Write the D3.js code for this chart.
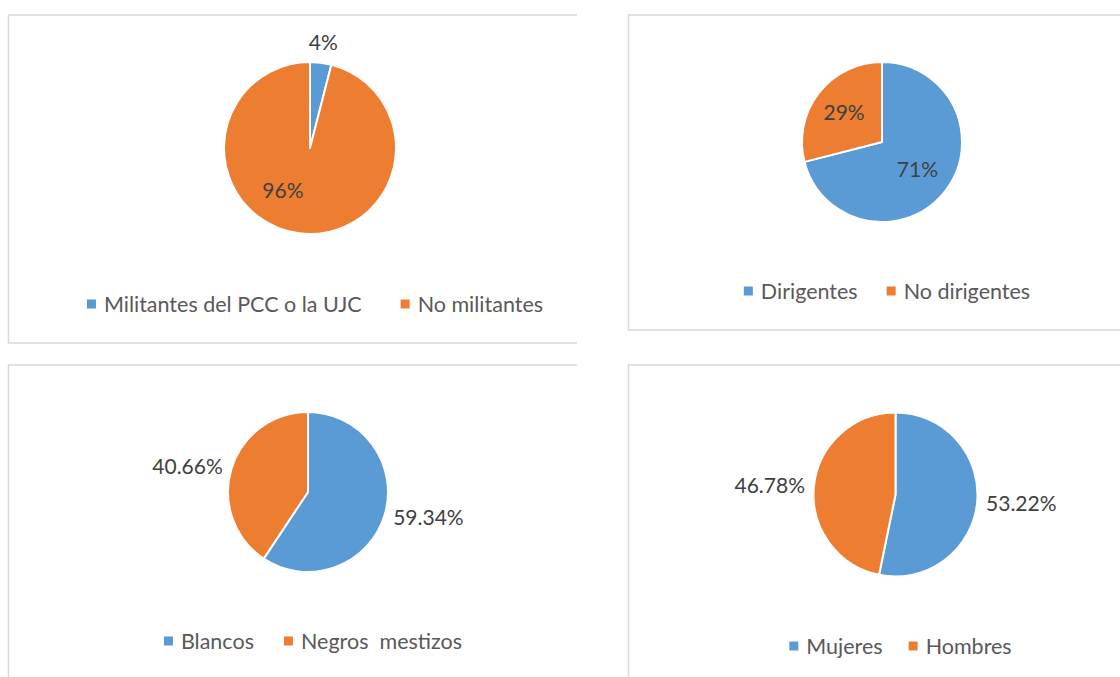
<!DOCTYPE html>
<html lang="es">
<head>
<meta charset="utf-8">
<title>pies</title>
<script src="https://cdn.jsdelivr.net/npm/d3@7"></script>
<style>
  body { margin: 0; background: #fff; }
  svg { display: block; }
  .lbl { font-family: Lato, "Noto Sans", sans-serif; font-size: 21px; fill: #404040; }
  .leg { font-family: Lato, "Noto Sans", sans-serif; font-size: 21.5px; fill: #595959; white-space: pre; }
  .frame { fill: none; stroke: #d9d9d9; stroke-width: 1.5; }
</style>
</head>
<body>
<svg width="1120" height="677"></svg>
<script>
// data
var militanciaCats = ["Militantes del PCC o la UJC", "No militantes"];
var militanciaVals = [4, 96];
var cargoCats = ["Dirigentes", "No dirigentes"];
var cargoVals = [71, 29];
var razaCats = ["Blancos", "Negros  mestizos"];
var razaVals = [59.34, 40.66];
var sexoCats = ["Mujeres", "Hombres"];
var sexoVals = [53.22, 46.78];

var colors = ["#5b9bd5", "#ed7d31"];

// layout of each panel
var panels = [
  { cats: militanciaCats, vals: militanciaVals, fmt: ".0f",
    frame: [8.5, 15, 577, 343, true], cx: 310, cy: 148, r: 86, legY: 304, legGap: 39,
    labels: [{ out: 20 }, { inn: 0.57, dx: -21, dy: -6 }] },
  { cats: cargoCats, vals: cargoVals, fmt: ".0f",
    frame: [628.5, 15, 1121, 330, true], cx: 882, cy: 142, r: 80, legY: 291, legGap: 29,
    labels: [{ inn: 0.56 }, { inn: 0.6 }] },
  { cats: razaCats, vals: razaVals, fmt: ".2f",
    frame: [8.5, 365, 577, 678, false], cx: 308, cy: 492, r: 80, legY: 641, legGap: 30,
    labels: [{ out: 9 }, { out: 9 }] },
  { cats: sexoCats, vals: sexoVals, fmt: ".2f",
    frame: [628.5, 365, 1121, 678, false], cx: 895.5, cy: 494.5, r: 82, legY: 646, legGap: 26,
    labels: [{ out: 9 }, { out: 9 }] }
];

var svg = d3.select("svg");
var pie = d3.pie().sort(null).value(function(d){ return d; });

panels.forEach(function(p){
  var f = p.frame;
  // left, top and (maybe) bottom edges; the right side is cut off in the source
  var path = "M" + f[2] + "," + f[1] + "H" + f[0] + "V" + f[3];
  if (f[4]) path += "H" + f[2];
  svg.append("path").attr("class", "frame").attr("d", path);

  var g = svg.append("g").attr("transform", "translate(" + p.cx + "," + p.cy + ")");
  var arc = d3.arc().innerRadius(0).outerRadius(p.r);
  var arcs = pie(p.vals);

  g.selectAll("path.slice")
    .data(arcs)
    .enter().append("path")
      .attr("class", "slice")
      .attr("d", arc)
      .attr("fill", function(d, i){ return colors[i]; })
      .attr("stroke", "#fff")
      .attr("stroke-width", 2)
      .attr("stroke-linejoin", "round");

  var fmt = d3.format(p.fmt);
  g.selectAll("text.lbl")
    .data(arcs)
    .enter().append("text")
      .attr("class", "lbl")
      .attr("dy", "0.35em")
      .each(function(d, i){
        var s = p.labels[i];
        var a = (d.startAngle + d.endAngle) / 2;
        var sx = Math.sin(a), sy = -Math.cos(a);
        var rr, anchor = "middle";
        if (s.out != null) {
          rr = p.r + s.out;
          if (sx > 0.3) anchor = "start";
          else if (sx < -0.3) anchor = "end";
        } else {
          rr = p.r * s.inn;
        }
        d3.select(this)
          .attr("x", sx * rr + (s.dx || 0))
          .attr("y", sy * rr + (s.dy || 0))
          .attr("text-anchor", anchor)
          .text(fmt(d.data) + "%");
      });

  // legend, centred under the pie
  var leg = svg.append("g");
  var items = leg.selectAll("g")
    .data(p.cats)
    .enter().append("g");
  items.append("rect")
    .attr("width", 9).attr("height", 9)
    .attr("y", -4.5)
    .attr("fill", function(d, i){ return colors[i]; });
  items.append("text")
    .attr("class", "leg")
    .attr("x", 17)
    .attr("dy", "0.35em")
    .text(function(d){ return d; });
  var x = 0;
  items.each(function(){
    var w = this.getBBox().width;
    d3.select(this).attr("transform", "translate(" + x + ",0)");
    x += w + p.legGap;
  });
  var total = x - p.legGap;
  leg.attr("transform", "translate(" + (p.cx + 5 - total / 2) + "," + p.legY + ")");
});
</script>
</body>
</html>
